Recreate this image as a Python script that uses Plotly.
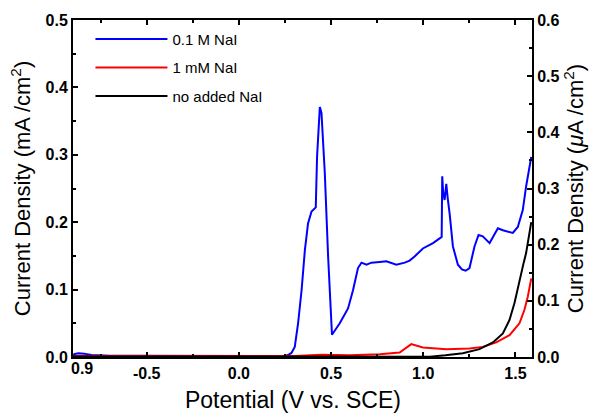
import plotly.graph_objects as go

# 0.1 M NaI (left axis, mA/cm2)
blue_v = [-0.9, -0.89, -0.87, -0.84, -0.8, -0.7, -0.5, -0.2, 0.0, 0.2, 0.25, 0.267, 0.285, 0.303, 0.321, 0.34,
          0.358, 0.375, 0.394, 0.417, 0.424, 0.439, 0.448, 0.466, 0.484, 0.505, 0.547, 0.592, 0.619,
          0.646, 0.665, 0.692, 0.719, 0.764, 0.80, 0.854, 0.9, 0.926, 0.953, 0.998, 1.053, 1.089,
          1.10, 1.103, 1.108, 1.116, 1.125, 1.133, 1.143, 1.161, 1.188, 1.21, 1.23, 1.251, 1.278,
          1.30, 1.323, 1.36, 1.405, 1.432, 1.486, 1.513, 1.54, 1.558, 1.586]
blue_i = [0.003, 0.0045, 0.0055, 0.005, 0.003, 0.002, 0.002, 0.0015, 0.0015, 0.0015, 0.0015, 0.003, 0.006, 0.015, 0.05, 0.099,
          0.159, 0.198, 0.216, 0.222, 0.297, 0.371, 0.362, 0.273, 0.149, 0.033, 0.05, 0.072, 0.099,
          0.132, 0.140, 0.137, 0.140, 0.141, 0.142, 0.137, 0.140, 0.143, 0.149, 0.161, 0.169, 0.176,
          0.178, 0.268, 0.245, 0.233, 0.257, 0.235, 0.213, 0.164, 0.137, 0.130, 0.128, 0.132, 0.164,
          0.181, 0.179, 0.169, 0.191, 0.188, 0.184, 0.193, 0.218, 0.253, 0.297]

# 1 mM NaI (right axis, uA/cm2)
red_v = [-0.9, -0.5, 0.0, 0.3, 0.45, 0.5, 0.6, 0.764, 0.872, 0.935, 0.998, 1.125, 1.251, 1.323,
         1.396, 1.468, 1.522, 1.549, 1.567, 1.586]
red_i = [0.002, 0.002, 0.002, 0.002, 0.004, 0.004, 0.003, 0.005, 0.008, 0.023, 0.017, 0.014, 0.015, 0.018,
         0.026, 0.039, 0.060, 0.084, 0.107, 0.140]

# no added NaI (right axis, uA/cm2)
black_v = [-0.9, -0.5, 0.0, 0.5, 0.8, 1.035, 1.12, 1.215, 1.305, 1.378, 1.432, 1.468, 1.495, 1.522,
           1.545, 1.558, 1.572, 1.586]
black_i = [0.001, 0.001, 0.001, 0.001, 0.001, 0.0006, 0.003, 0.0066, 0.014, 0.026, 0.042, 0.066, 0.096, 0.137,
           0.168, 0.185, 0.21, 0.24]

x_ticks = [-0.5, 0.0, 0.5, 1.0, 1.5]
x_tick_text = ["-0.5", "0.0", "0.5", "1.0", "1.5"]

FONT = "Liberation Sans, Arial, sans-serif"

fig = go.Figure()
fig.add_trace(go.Scatter(x=blue_v, y=blue_i, mode="lines", name="0.1 M NaI",
                         line=dict(color="#0000ff", width=2), legendgroup="a"))
fig.add_trace(go.Scatter(x=red_v, y=red_i, mode="lines", name="1 mM NaI", yaxis="y2",
                         line=dict(color="#ff0000", width=2), legendgroup="b"))
fig.add_trace(go.Scatter(x=black_v, y=black_i, mode="lines", name="no added NaI", yaxis="y2",
                         line=dict(color="#000000", width=2), legendgroup="c"))

tickfont = dict(family=FONT, size=16, color="black", weight="bold")

fig.update_layout(
    width=596, height=416,
    margin=dict(l=73, r=64, t=20, b=59, autoexpand=False),
    paper_bgcolor="white", plot_bgcolor="white",
    font=dict(family=FONT, color="black"),
    showlegend=True,
    legend=dict(x=0.038, y=0.992, xanchor="left", yanchor="top", bgcolor="rgba(0,0,0,0)",
                font=dict(family=FONT, size=15), tracegroupgap=6, itemwidth=72),
    xaxis=dict(range=[-0.9, 1.59], tickmode="array", tickvals=x_ticks, ticktext=x_tick_text,
               ticks="inside", ticklen=5, tickwidth=1.5, tickcolor="black",
               minor=dict(dtick=0.25, tick0=0, ticks="inside", ticklen=3, tickcolor="black", tickwidth=1.5),
               showline=True, linecolor="black", linewidth=2, mirror="ticks", automargin=False,
               showgrid=False, zeroline=False, tickfont=tickfont, ticklabelstandoff=1,
               title=dict(text="Potential (V vs. SCE)&nbsp;&nbsp;&nbsp;", font=dict(family=FONT, size=23), standoff=11)),
    yaxis=dict(range=[0, 0.5], dtick=0.1, tickformat=".1f", automargin=False,
               ticks="inside", ticklen=5, tickwidth=1.5, tickcolor="black",
               minor=dict(dtick=0.05, ticks="inside", ticklen=3, tickcolor="black", tickwidth=1.5),
               showline=True, linecolor="black", linewidth=2,
               showgrid=False, zeroline=False, tickfont=tickfont,
               title=dict(text="Current Density (mA /cm<sup>2</sup>)", font=dict(family=FONT, size=22), standoff=9)),
    yaxis2=dict(range=[0, 0.6], dtick=0.1, tickformat=".1f", overlaying="y", side="right", automargin=False,
                ticks="inside", ticklen=5, tickwidth=1.5, tickcolor="black",
                minor=dict(dtick=0.05, ticks="inside", ticklen=3, tickcolor="black", tickwidth=1.5),
                showline=True, linecolor="black", linewidth=2,
                showgrid=False, zeroline=False, tickfont=tickfont,
                title=dict(text="Current Density (<i>μ</i>A /cm<sup>2</sup>)", font=dict(family=FONT, size=22), standoff=4)),
    annotations=[dict(text="<b>0.9</b>", x=-0.85, y=-0.064, xref="x", yref="paper",
                      showarrow=False, font=dict(family=FONT, size=16, color="black"))],
)

fig.write_html("out.html", config={"displayModeBar": False},
               post_script="document.body.style.margin='0px';")
